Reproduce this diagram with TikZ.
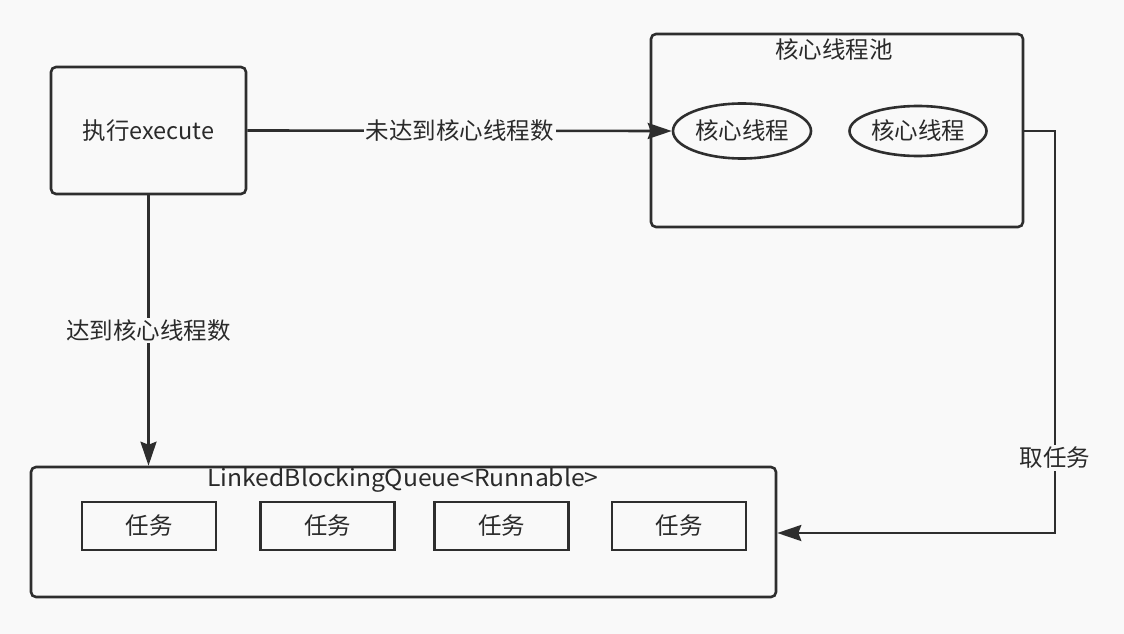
\documentclass[tikz,border=0pt]{standalone}
\usepackage{fontspec}
\setmainfont{Noto Sans CJK SC}
\usetikzlibrary{arrows.meta,shapes.geometric}
\definecolor{bg}{HTML}{F9F9F9}
\definecolor{ln}{HTML}{2E2E2E}
\definecolor{tx}{HTML}{2A2A2A}
\tikzset{
  box/.style={draw=ln, line width=2.6pt, rounded corners=5pt, text=tx, font=\fontsize{23.5}{26}\selectfont, inner sep=0pt},
  taskbox/.style={draw=ln, line width=2.6pt, text=tx, font=\fontsize{23.5}{26}\selectfont, minimum width=134pt, minimum height=48pt, inner sep=0pt},
  oval/.style={draw=ln, line width=2.6pt, ellipse, text=tx, font=\fontsize{23.5}{26}\selectfont, inner sep=0pt},
  ttl/.style={text=tx, font=\fontsize{23.5}{26}\selectfont, inner sep=1pt},
  lbl/.style={fill=bg, text=tx, font=\fontsize{23.5}{26}\selectfont, inner sep=2pt},
  arr/.style={draw=ln, line width=2.6pt, -{Stealth[length=24pt,width=16pt,inset=3pt]}},
}
\begin{document}
\begin{tikzpicture}[x=1pt,y=-1pt]
\useasboundingbox[fill=bg] (0,0) rectangle (1124,634);
\node[box, minimum width=195pt, minimum height=127pt] (exec) at (148.5,130.5) {执行execute};
\node[box, minimum width=372pt, minimum height=193pt] (pool) at (837,130.5) {};
\node[ttl] (pooltitle) at (834,50) {核心线程池};
\node[oval, minimum width=138pt, minimum height=55pt] (e1) at (742,131) {核心线程};
\node[oval, minimum width=137pt, minimum height=50pt] (e2) at (918,131) {核心线程};
\node[box, minimum width=745pt, minimum height=130pt] (queue) at (403.5,532) {};
\node[ttl, xscale=1.05] (qtitle) at (403,480) {LinkedBlockingQueue<Runnable>};
\node[taskbox] (t1) at (149,526) {任务};
\node[taskbox] (t2) at (327.5,526) {任务};
\node[taskbox] (t3) at (501.5,526) {任务};
\node[taskbox] (t4) at (679,526) {任务};
\draw[arr] (exec.east) -- node[lbl, pos=0.5] (l1) {未达到核心线程数} (e1.west);
\draw[arr] (exec.south) -- node[lbl, pos=0.5] (l2) {达到核心线程数} (exec.south |- queue.north);
\coordinate (bend) at (1055,533);
\draw[arr] (pool.east |- e2.center) -| (bend) -- (queue.east |- bend);
\node[lbl] (l3) at (1055,458) {取任务};
\end{tikzpicture}
\end{document}
